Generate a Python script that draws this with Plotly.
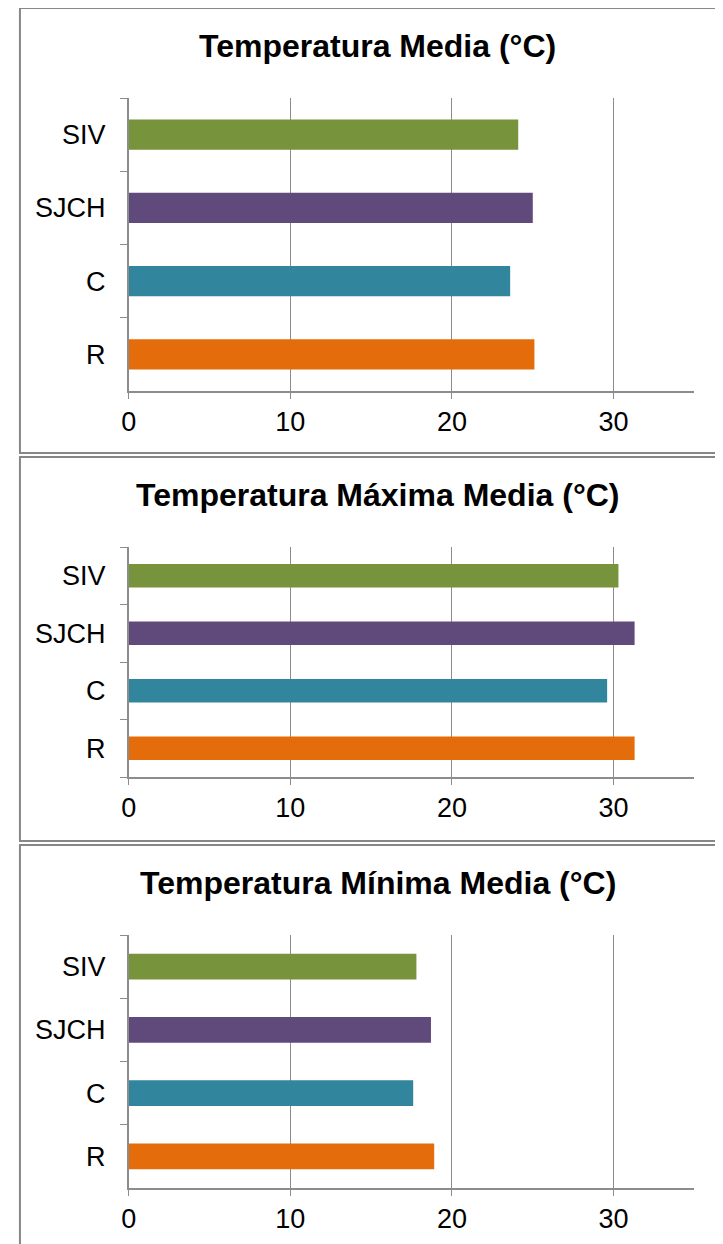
import plotly.graph_objects as go

W, H = 723, 1244
OFF = 8  # page body margin offset compensation

categories = ["R", "C", "SJCH", "SIV"]
colors = ["#E46C0A", "#31859C", "#604A7B", "#77933C"]

media = [25.1, 23.6, 25.0, 24.1]
maxima = [31.3, 29.6, 31.3, 30.3]
minima = [18.9, 17.6, 18.7, 17.8]

titles = ["Temperatura Media (°C)", "Temperatura Máxima Media (°C)", "Temperatura Mínima Media (°C)"]
series = [media, maxima, minima]
x_ticks = [0, 10, 20, 30]

# pixel layout (plot areas, title centres, panel borders)
plot_px = [(98, 391), (547, 777), (935, 1188)]
title_px = [46, 495, 883]
border_px = [(8, 453), (457, 841), (845, 1270)]
x_px = (122, 694)

def px(p):
    return (p - OFF) / W

def py(p):
    return 1 - (p - OFF) / H

fig = go.Figure()
font = "Liberation Sans, Arial, sans-serif"
grid = "#8C8C8C"

for i, (vals, title) in enumerate(zip(series, titles)):
    n = "" if i == 0 else str(i + 1)
    fig.add_trace(go.Bar(
        x=vals, y=categories, orientation="h",
        marker=dict(color=colors, line=dict(width=0)),
        width=0.41, xaxis="x" + n, yaxis="y" + n, showlegend=False,
    ))
    top, bot = plot_px[i]
    fig.update_layout(**{
        "xaxis" + n: dict(
            domain=[px(x_px[0]), px(x_px[1])], range=[0, 35], anchor="y" + n,
            tickvals=x_ticks, ticks="outside", ticklen=6, tickcolor=grid, tickwidth=1,
            showgrid=True, gridcolor=grid, gridwidth=1, zeroline=False,
            showline=True, linecolor=grid, linewidth=1.5,
            tickfont=dict(family=font, size=27, color="black"),
        ),
        "yaxis" + n: dict(
            domain=[py(bot), py(top)], anchor="x" + n,
            type="category", categoryorder="array", categoryarray=categories,
            range=[-0.5, 3.5],
            ticks="outside", tickson="boundaries", ticklen=7, tickcolor=grid, tickwidth=1,
            ticklabelstandoff=16,
            showgrid=False, zeroline=False,
            showline=True, linecolor=grid, linewidth=1.5,
            tickfont=dict(family=font, size=27, color="black"),
        ),
    })
    fig.add_annotation(
        text="<b>" + title + "</b>", x=px(374), y=py(title_px[i]),
        xref="paper", yref="paper", xanchor="center", yanchor="middle",
        showarrow=False, font=dict(family=font, size=32, color="black"),
    )
    b0, b1 = border_px[i]
    fig.add_shape(type="rect", xref="paper", yref="paper",
                  x0=px(12), x1=1.05, y0=py(b1), y1=py(b0),
                  line=dict(color="#878787", width=2), fillcolor="rgba(0,0,0,0)")

fig.update_layout(
    width=W, height=H, margin=dict(l=0, r=0, t=0, b=0),
    paper_bgcolor="white", plot_bgcolor="white",
    bargap=0.6,
)

fig.write_html("out.html")
